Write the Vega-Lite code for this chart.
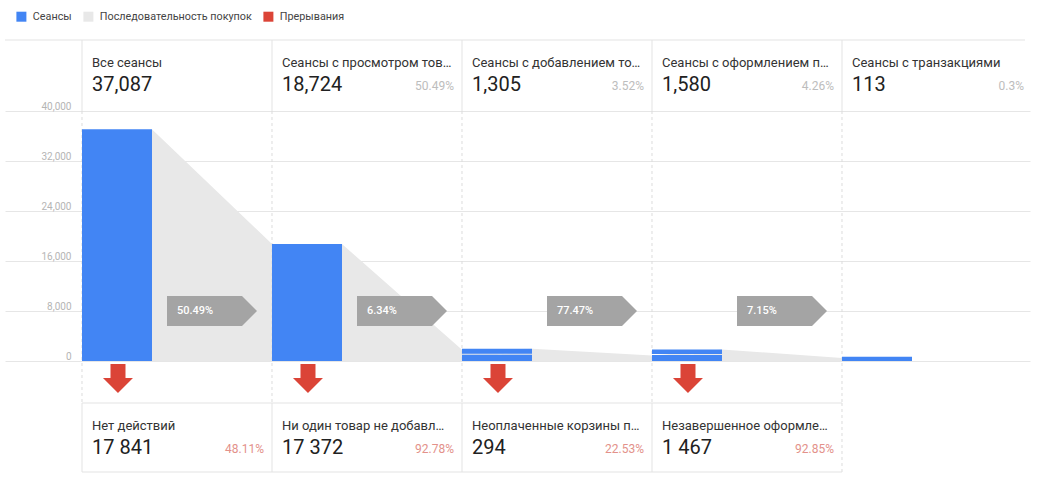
{
  "$schema": "https://vega.github.io/schema/vega-lite/v6.json",
  "width": 1025,
  "height": 435,
  "autosize": "none",
  "padding": {"left": 5, "top": 40, "right": 23, "bottom": 4},
  "background": "white",
  "config": {
    "view": {"stroke": null},
    "font": "Roboto",
    "scale": {"continuousPadding": 0},
    "legend": {
      "orient": "none",
      "legendX": 11,
      "legendY": -29,
      "direction": "horizontal",
      "symbolType": "square",
      "symbolSize": 100,
      "symbolStrokeWidth": 0,
      "symbolOpacity": 1,
      "labelFont": "Roboto",
      "labelFontSize": 10.8,
      "labelColor": "#444444",
      "labelLimit": 300,
      "labelOffset": 6,
      "columnPadding": 11,
      "padding": 0,
      "title": null
    }
  },
  "datasets": {
    "bars": [
      {"step": 0, "lo": 0, "hi": 37087},
      {"step": 1, "lo": 0, "hi": 18724},
      {"step": 2, "lo": 0, "hi": 1000},
      {"step": 2, "lo": 1160, "hi": 1980},
      {"step": 3, "lo": 0, "hi": 950},
      {"step": 3, "lo": 1110, "hi": 1850},
      {"step": 4, "lo": 0, "hi": 700}
    ],
    "flow": [
      {"seg": "a", "pos": 0.368, "v": 37087},
      {"seg": "a", "pos": 1.0, "v": 18724},
      {"seg": "b", "pos": 1.368, "v": 18724},
      {"seg": "b", "pos": 2.0, "v": 1800},
      {"seg": "c", "pos": 2.368, "v": 1950},
      {"seg": "c", "pos": 3.0, "v": 900},
      {"seg": "d", "pos": 3.368, "v": 1850},
      {"seg": "d", "pos": 4.0, "v": 480}
    ],
    "header": [
      {"step": 0, "title": "Все сеансы", "value": "37,087", "pct": ""},
      {"step": 1, "title": "Сеансы с просмотром тов…", "value": "18,724", "pct": "50.49%"},
      {"step": 2, "title": "Сеансы с добавлением то…", "value": "1,305", "pct": "3.52%"},
      {"step": 3, "title": "Сеансы с оформлением п…", "value": "1,580", "pct": "4.26%"},
      {"step": 4, "title": "Сеансы с транзакциями", "value": "113", "pct": "0.3%"}
    ],
    "drops": [
      {"step": 0, "title": "Нет действий", "value": "17 841", "pct": "48.11%", "rate": "50.49%"},
      {"step": 1, "title": "Ни один товар не добавл…", "value": "17 372", "pct": "92.78%", "rate": "6.34%"},
      {"step": 2, "title": "Неоплаченные корзины п…", "value": "294", "pct": "22.53%", "rate": "77.47%"},
      {"step": 3, "title": "Незавершенное оформле…", "value": "1 467", "pct": "92.85%", "rate": "7.15%"}
    ],
    "cols": [
      {"step": 0}, {"step": 1}, {"step": 2}, {"step": 3}, {"step": 4}
    ]
  },
  "layer": [
    {
      "data": {"name": "flow"},
      "mark": {"type": "area", "opacity": 1},
      "encoding": {
        "x": {"field": "pos", "type": "quantitative", "scale": {"domain": [-0.405263, 4.989474], "nice": false, "zero": false, "padding": 0}, "axis": null},
        "y": {"field": "v", "type": "quantitative", "scale": {"domain": [-18240, 51360], "nice": false, "padding": 0},
          "axis": {"values": [0, 8000, 16000, 24000, 32000, 40000], "format": ",d", "title": null, "domain": false, "ticks": false,
            "labelPadding": -66, "labelFontSize": 10, "labelColor": "#b5b5b5", "labelBaseline": "alphabetic", "labelOffset": -2,
            "gridColor": "#e6e6e6", "gridWidth": 1}},
        "detail": {"field": "seg"},
        "color": {"datum": "Последовательность покупок", "type": "nominal",
          "scale": {"domain": ["Сеансы", "Последовательность покупок", "Прерывания"], "range": ["#4285f4", "#e8e8e8", "#db4437"]}}
      }
    },
    {
      "data": {"name": "cols"},
      "mark": {"type": "rule", "color": "#e3e3e3", "strokeWidth": 1},
      "encoding": {
        "x": {"field": "step", "type": "quantitative"},
        "y": {"datum": 51360},
        "y2": {"datum": 40000}
      }
    },
    {
      "data": {"name": "cols"},
      "mark": {"type": "rule", "color": "#dddddd", "strokeWidth": 1, "strokeDash": [3, 3]},
      "encoding": {
        "x": {"field": "step", "type": "quantitative"},
        "y": {"datum": 40000},
        "y2": {"datum": -6720}
      }
    },
    {
      "data": {"name": "cols"},
      "transform": [{"filter": "datum.step < 4"}],
      "mark": {"type": "rule", "color": "#e3e3e3", "strokeWidth": 1},
      "encoding": {
        "x": {"field": "step", "type": "quantitative"},
        "y": {"datum": -6720},
        "y2": {"datum": -17760}
      }
    },
    {
      "data": {"name": "cols"},
      "transform": [{"filter": "datum.step == 4"}],
      "mark": {"type": "rule", "color": "#dddddd", "strokeWidth": 1, "strokeDash": [3, 3]},
      "encoding": {
        "x": {"field": "step", "type": "quantitative"},
        "y": {"datum": -6720},
        "y2": {"datum": -17760}
      }
    },
    {
      "data": {"values": [{"edge": "top"}]},
      "mark": {"type": "rule", "color": "#e3e3e3", "strokeWidth": 1, "xOffset": -5, "x2Offset": 23},
      "encoding": {
        "y": {"datum": 51360}
      }
    },
    {
      "data": {"values": [{"edge": "a"}]},
      "mark": {"type": "rule", "color": "#e3e3e3", "strokeWidth": 1},
      "encoding": {
        "x": {"datum": 0}, "x2": {"datum": 4},
        "y": {"datum": -6720}
      }
    },
    {
      "data": {"values": [{"edge": "b"}]},
      "mark": {"type": "rule", "color": "#e3e3e3", "strokeWidth": 1},
      "encoding": {
        "x": {"datum": 0}, "x2": {"datum": 4},
        "y": {"datum": -17760}
      }
    },
    {
      "data": {"name": "bars"},
      "mark": {"type": "bar", "width": 70, "xOffset": 35},
      "encoding": {
        "x": {"field": "step", "type": "quantitative"},
        "y": {"field": "hi", "type": "quantitative"},
        "y2": {"field": "lo"},
        "color": {"datum": "Сеансы", "type": "nominal"}
      }
    },
    {
      "data": {"name": "drops"},
      "mark": {"type": "point", "filled": true, "opacity": 1, "size": 8100, "xOffset": 130, "color": "#a4a4a4",
        "shape": "M-1,-0.333L0.667,-0.333L1,0L0.667,0.333L-1,0.333Z"},
      "encoding": {
        "x": {"field": "step", "type": "quantitative"},
        "y": {"datum": 8000}
      }
    },
    {
      "data": {"name": "drops"},
      "mark": {"type": "text", "align": "left", "baseline": "middle", "dx": 95, "fontSize": 11, "color": "white", "fontWeight": 500},
      "encoding": {
        "x": {"field": "step", "type": "quantitative"},
        "y": {"datum": 8000},
        "text": {"field": "rate"}
      }
    },
    {
      "data": {"name": "drops"},
      "mark": {"type": "point", "filled": true, "opacity": 1, "size": 900, "xOffset": 36, "strokeWidth": 0,
        "shape": "M-0.5,-0.967L0.5,-0.967L0.5,-0.033L1,-0.033L0,0.967L-1,-0.033L-0.5,-0.033Z"},
      "encoding": {
        "x": {"field": "step", "type": "quantitative"},
        "y": {"datum": -2800},
        "color": {"datum": "Прерывания", "type": "nominal"}
      }
    },
    {
      "data": {"name": "header"},
      "mark": {"type": "text", "align": "left", "baseline": "alphabetic", "dx": 10, "fontSize": 13, "color": "#333333"},
      "encoding": {
        "x": {"field": "step", "type": "quantitative"},
        "y": {"datum": 47040},
        "text": {"field": "title"}
      }
    },
    {
      "data": {"name": "header"},
      "mark": {"type": "text", "align": "left", "baseline": "alphabetic", "dx": 10, "fontSize": 20, "color": "#212121"},
      "encoding": {
        "x": {"field": "step", "type": "quantitative"},
        "y": {"datum": 43200},
        "text": {"field": "value"}
      }
    },
    {
      "data": {"name": "header"},
      "mark": {"type": "text", "align": "right", "baseline": "alphabetic", "dx": 182, "fontSize": 12, "color": "#bdbdbd"},
      "encoding": {
        "x": {"field": "step", "type": "quantitative"},
        "y": {"datum": 43360},
        "text": {"field": "pct"}
      }
    },
    {
      "data": {"name": "drops"},
      "mark": {"type": "text", "align": "left", "baseline": "alphabetic", "dx": 10, "fontSize": 13, "color": "#333333"},
      "encoding": {
        "x": {"field": "step", "type": "quantitative"},
        "y": {"datum": -11040},
        "text": {"field": "title"}
      }
    },
    {
      "data": {"name": "drops"},
      "mark": {"type": "text", "align": "left", "baseline": "alphabetic", "dx": 10, "fontSize": 20, "color": "#212121"},
      "encoding": {
        "x": {"field": "step", "type": "quantitative"},
        "y": {"datum": -14880},
        "text": {"field": "value"}
      }
    },
    {
      "data": {"name": "drops"},
      "mark": {"type": "text", "align": "right", "baseline": "alphabetic", "dx": 182, "fontSize": 12, "color": "#e3918a"},
      "encoding": {
        "x": {"field": "step", "type": "quantitative"},
        "y": {"datum": -14720},
        "text": {"field": "pct"}
      }
    }
  ]
}
